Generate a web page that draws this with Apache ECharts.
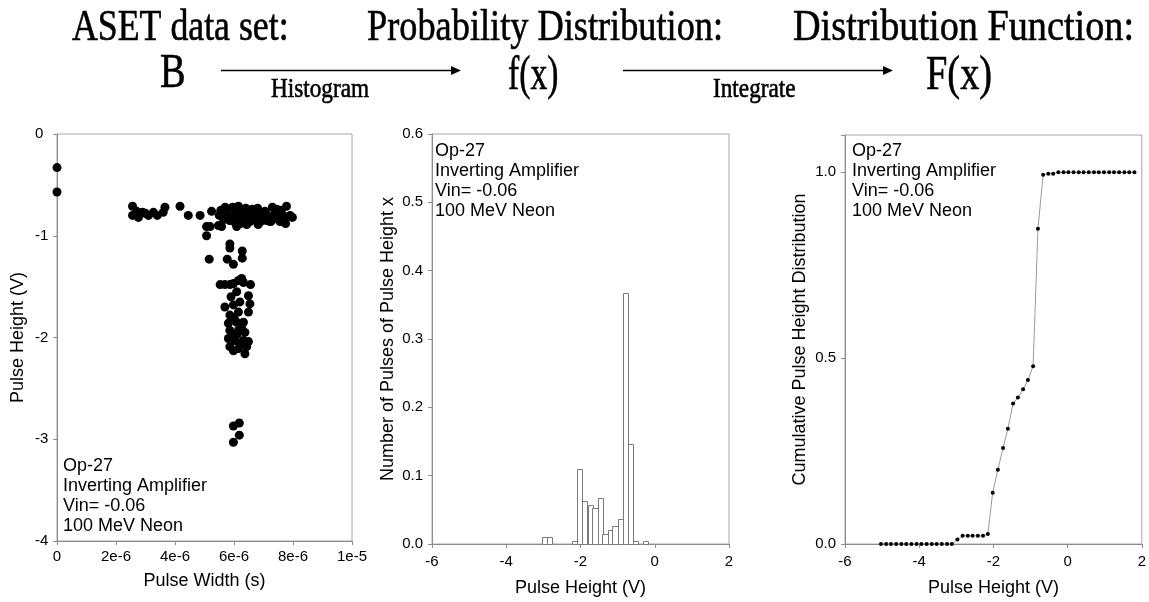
<!DOCTYPE html>
<html><head><meta charset="utf-8">
<script src="https://cdn.jsdelivr.net/npm/echarts@6/dist/echarts.min.js"></script>
<style>html,body{margin:0;padding:0;background:#fff}#c{width:1149px;height:602px}</style>
</head><body><div id="c"></div>
<script>
// ---------- DATA ----------
// Panel 1: ASET data set B (pulse width in microseconds, pulse height in V)
const pulseWidthUs = [
  0, 0,
  2.56, 2.56, 2.76, 2.90, 3.10, 3.27, 3.40, 3.60, 3.66, 3.00, 2.70,
  4.17, 4.45, 4.85, 5.24,
  5.50, 5.55, 5.70, 5.78, 5.85, 5.95, 6.00, 6.05, 6.10, 6.15, 6.20, 6.25, 6.30, 6.35, 6.40, 6.45, 6.50, 6.55, 6.60, 6.70,
  6.75, 6.85, 6.90, 7.00, 7.05, 7.20, 7.25, 7.30, 7.35, 7.45, 7.50, 7.56, 7.65, 7.75, 7.78, 7.90, 7.98, 5.90, 6.12, 6.28,
  6.42, 6.62, 6.95, 7.10, 7.40, 7.60, 5.65, 6.00, 6.22, 6.80, 7.15, 7.70,
  5.07, 5.19, 5.47, 5.58, 6.09, 6.43, 6.82, 7.22, 5.07,
  5.86, 5.86, 6.28, 6.28, 5.16, 5.77, 5.98,
  5.53, 5.69, 5.86, 5.98, 6.15, 6.26, 6.32, 6.56, 6.09, 6.49, 5.69, 5.98, 6.20, 6.54, 5.86, 6.15, 6.49, 5.81, 6.09, 6.32,
  5.86, 6.15, 6.37, 5.81, 6.03, 6.32, 6.49, 5.86, 6.15, 6.43, 5.98, 6.37, 5.90, 6.00, 6.10, 6.20, 5.95, 6.25,
  5.98, 6.18, 6.18, 5.98
];
const pulseHeightV = [
  -0.33, -0.57,
  -0.71, -0.80, -0.82, -0.77, -0.80, -0.77, -0.80, -0.77, -0.72, -0.78, -0.76,
  -0.71, -0.80, -0.80, -0.76,
  -0.80, -0.75, -0.72, -0.78, -0.85, -0.72, -0.80, -0.84, -0.76, -0.71, -0.79, -0.85, -0.75, -0.80, -0.73, -0.83, -0.78, -0.86, -0.80, -0.76,
  -0.84, -0.80, -0.86, -0.82, -0.76, -0.82, -0.86, -0.72, -0.80, -0.74, -0.84, -0.86, -0.80, -0.88, -0.71, -0.80, -0.82, -0.82, -0.82, -0.78,
  -0.88, -0.74, -0.79, -0.85, -0.78, -0.75, -0.84, -0.86, -0.88, -0.73, -0.80, -0.83,
  -0.91, -0.91, -0.90, -0.91, -0.91, -0.89, -0.89, -0.86, -1.00,
  -1.08, -1.12, -1.15, -1.22, -1.23, -1.23, -1.28,
  -1.48, -1.48, -1.48, -1.47, -1.44, -1.42, -1.46, -1.48, -1.55, -1.59, -1.70, -1.68, -1.65, -1.67, -1.78, -1.75, -1.75, -1.86, -1.85, -1.85,
  -1.93, -1.93, -1.95, -2.01, -2.03, -2.03, -2.04, -2.09, -2.11, -2.09, -2.13, -2.16, -1.60, -1.80, -1.97, -2.06, -2.00, -1.90,
  -2.87, -2.84, -2.96, -3.03
];
const widthTickValues = [0, 2, 4, 6, 8, 10];
const widthTickLabels = ["0", "2e-6", "4e-6", "6e-6", "8e-6", "1e-5"];
const heightTickValues1 = [0, -1, -2, -3, -4];
const heightTickLabels1 = ["0", "-1", "-2", "-3", "-4"];

// Panel 2: histogram f(x)
const binCenter = [-2.97, -2.83, -2.15, -2.02, -1.88, -1.74, -1.61, -1.47, -1.34, -1.20, -1.07, -0.93, -0.80, -0.66, -0.52, -0.25];
const binHeight = [0.010, 0.010, 0.0045, 0.110, 0.063, 0.057, 0.052, 0.068, 0.015, 0.021, 0.027, 0.037, 0.367, 0.147, 0.0045, 0.0045];
const binWidth = 0.137;
const histYTickValues = [0, 0.1, 0.2, 0.3, 0.4, 0.5, 0.6];
const histYTickLabels = ["0.0", "0.1", "0.2", "0.3", "0.4", "0.5", "0.6"];
const phTickValues = [-6, -4, -2, 0, 2];
const phTickLabels = ["-6", "-4", "-2", "0", "2"];

// Panel 3: cumulative distribution F(x)
const cdfX = [-5.03, -4.89, -4.76, -4.62, -4.48, -4.35, -4.21, -4.07, -3.94, -3.80, -3.66, -3.53, -3.39, -3.25, -3.12,
  -2.97, -2.83, -2.69, -2.56, -2.42, -2.28, -2.15, -2.02, -1.88, -1.74, -1.61, -1.47, -1.34, -1.20, -1.07, -0.93, -0.80, -0.66, -0.52, -0.39,
  -0.25, -0.11, 0.02, 0.16, 0.30, 0.43, 0.57, 0.71, 0.84, 0.98, 1.12, 1.25, 1.39, 1.53, 1.66, 1.80];
const cdfY = [0, 0, 0, 0, 0, 0, 0, 0, 0, 0, 0, 0, 0, 0, 0,
  0.012, 0.022, 0.022, 0.022, 0.022, 0.022, 0.027, 0.138, 0.200, 0.258, 0.310, 0.378, 0.394, 0.416, 0.441, 0.478, 0.848, 0.993, 0.996, 0.996,
  1.0, 1.0, 1.0, 1.0, 1.0, 1.0, 1.0, 1.0, 1.0, 1.0, 1.0, 1.0, 1.0, 1.0, 1.0, 1.0];
const cdfYTickValues = [0, 0.5, 1.0];
const cdfYTickLabels = ["0.0", "0.5", "1.0"];

const noteLines = ["Op-27", "Inverting Amplifier", "Vin= -0.06", "100 MeV Neon"];

// ---------- CHART ----------
const SANS = '"Liberation Sans", Arial, sans-serif';
const SERIF = '"Liberation Serif", "Times New Roman", serif';
const AXIS_GRAY = '#8c8c8c';

function lookup(values, labels) {
  return function (v) {
    for (let i = 0; i < values.length; i++) if (Math.abs(values[i] - v) < 1e-9) return labels[i];
    return '';
  };
}
function axis(base) {
  return Object.assign({
    axisLine: { show: true, onZero: false, lineStyle: { color: AXIS_GRAY, width: 1 } },
    axisTick: { show: true, inside: false, length: 4, lineStyle: { color: AXIS_GRAY } },
    splitLine: { show: false },
    nameLocation: 'middle',
    nameTextStyle: { fontFamily: SANS, fontSize: 18, color: '#000' }
  }, base);
}
const labelStyle = { fontFamily: SANS, fontSize: 15, color: '#000' };

const scatterData = pulseWidthUs.map((w, i) => [w, pulseHeightV[i]]);
const histData = binCenter.map((c, i) => [c, binHeight[i]]);
const cdfData = cdfX.map((x, i) => [x, cdfY[i]]);

const chart = echarts.init(document.getElementById('c'), null, { renderer: 'canvas' });

const graphic = [];
function serifText(txt, x, y, size, sx) {
  graphic.push({
    type: 'text', x: x, y: y, scaleX: sx, scaleY: 1,
    style: { text: txt, font: size + 'px ' + SERIF, fill: '#000', stroke: '#000', lineWidth: 0.6, textAlign: 'left', textVerticalAlign: 'middle' }
  });
}
serifText('ASET data set:', 72, 28, 45, 0.795);
serifText('Probability Distribution:', 367, 28, 45, 0.807);
serifText('Distribution Function:', 793, 28, 45, 0.85);
serifText('B', 160, 74, 48, 0.8);
serifText('f(x)', 508, 76, 48, 0.7);
serifText('F(x)', 926, 76, 48, 0.8);
serifText('Histogram', 271, 90, 28, 0.83);
serifText('Integrate', 713, 90, 28, 0.83);
function arrow(x1, x2, y) {
  graphic.push({ type: 'line', shape: { x1: x1, y1: y, x2: x2 - 8, y2: y }, style: { stroke: '#000', lineWidth: 1.5 } });
  graphic.push({ type: 'polygon', shape: { points: [[x2 - 10, y - 4.5], [x2, y], [x2 - 10, y + 4.5]] }, style: { fill: '#000' } });
}
arrow(221, 461, 70.5);
arrow(623, 893, 70.5);
function note(x, y) {
  graphic.push({
    type: 'text', x: x, y: y,
    style: { text: noteLines.join('\n'), font: '18px ' + SANS, lineHeight: 20, fill: '#000', textAlign: 'left', textVerticalAlign: 'top' }
  });
}
note(63, 456);
note(435, 141);
note(852, 141);

const option = {
  animation: false,
  backgroundColor: '#fff',
  graphic: graphic,
  grid: [
    { left: 57, top: 134, width: 295, height: 407, show: true, borderColor: '#a6a6a6', borderWidth: 1, containLabel: false },
    { left: 432, top: 134, width: 297, height: 411, show: true, borderColor: '#a6a6a6', borderWidth: 1, containLabel: false },
    { left: 845, top: 135, width: 298, height: 410, show: true, borderColor: '#a6a6a6', borderWidth: 1, containLabel: false }
  ],
  xAxis: [
    axis({ gridIndex: 0, type: 'value', min: 0, max: 10, interval: 2, name: 'Pulse Width (s)', nameGap: 31,
      axisLabel: Object.assign({ margin: 8, formatter: lookup(widthTickValues, widthTickLabels) }, labelStyle) }),
    axis({ gridIndex: 1, type: 'value', min: -6, max: 2, interval: 2, name: 'Pulse Height (V)', nameGap: 35,
      axisLabel: Object.assign({ margin: 10, formatter: lookup(phTickValues, phTickLabels) }, labelStyle) }),
    axis({ gridIndex: 2, type: 'value', min: -6, max: 2, interval: 2, name: 'Pulse Height (V)', nameGap: 35,
      axisLabel: Object.assign({ margin: 10, formatter: lookup(phTickValues, phTickLabels) }, labelStyle) })
  ],
  yAxis: [
    axis({ gridIndex: 0, type: 'value', min: -4, max: 0, interval: 1, name: 'Pulse Height (V)', nameGap: 30,
      axisLabel: Object.assign({ margin: 22, align: 'left', formatter: lookup(heightTickValues1, heightTickLabels1) }, labelStyle) }),
    axis({ gridIndex: 1, type: 'value', min: 0, max: 0.6, interval: 0.1, name: 'Number of Pulses of Pulse Height x', nameGap: 35,
      axisLabel: Object.assign({ margin: 9, formatter: lookup(histYTickValues, histYTickLabels) }, labelStyle) }),
    axis({ gridIndex: 2, type: 'value', min: 0, max: 1.1, interval: 0.5, name: 'Cumulative Pulse Height Distribution', nameGap: 36,
      axisLabel: Object.assign({ margin: 9, formatter: lookup(cdfYTickValues, cdfYTickLabels) }, labelStyle) })
  ],
  series: [
    { type: 'scatter', xAxisIndex: 0, yAxisIndex: 0, data: scatterData, symbol: 'circle', symbolSize: 9, clip: false,
      itemStyle: { color: '#000', opacity: 1 }, silent: true },
    { type: 'custom', xAxisIndex: 1, yAxisIndex: 1, data: histData, encode: { x: 0, y: 1 }, silent: true,
      renderItem: function (params, api) {
        const c = api.value(0), h = api.value(1);
        const p0 = api.coord([c - binWidth / 2, h]);
        const p1 = api.coord([c + binWidth / 2, 0]);
        return {
          type: 'rect',
          shape: { x: Math.round(p0[0]) + 0.5, y: Math.round(p0[1]) + 0.5, width: Math.round(p1[0]) - Math.round(p0[0]), height: Math.round(p1[1]) - Math.round(p0[1]) },
          style: { fill: '#fff', stroke: '#7a7a7a', lineWidth: 1 }
        };
      } },
    { type: 'line', xAxisIndex: 2, yAxisIndex: 2, data: cdfData, symbol: 'circle', symbolSize: 4, showSymbol: true,
      itemStyle: { color: '#000', borderWidth: 0 }, lineStyle: { color: '#9a9a9a', width: 1 }, silent: true }
  ]
};
chart.setOption(option);
</script>
</body></html>
